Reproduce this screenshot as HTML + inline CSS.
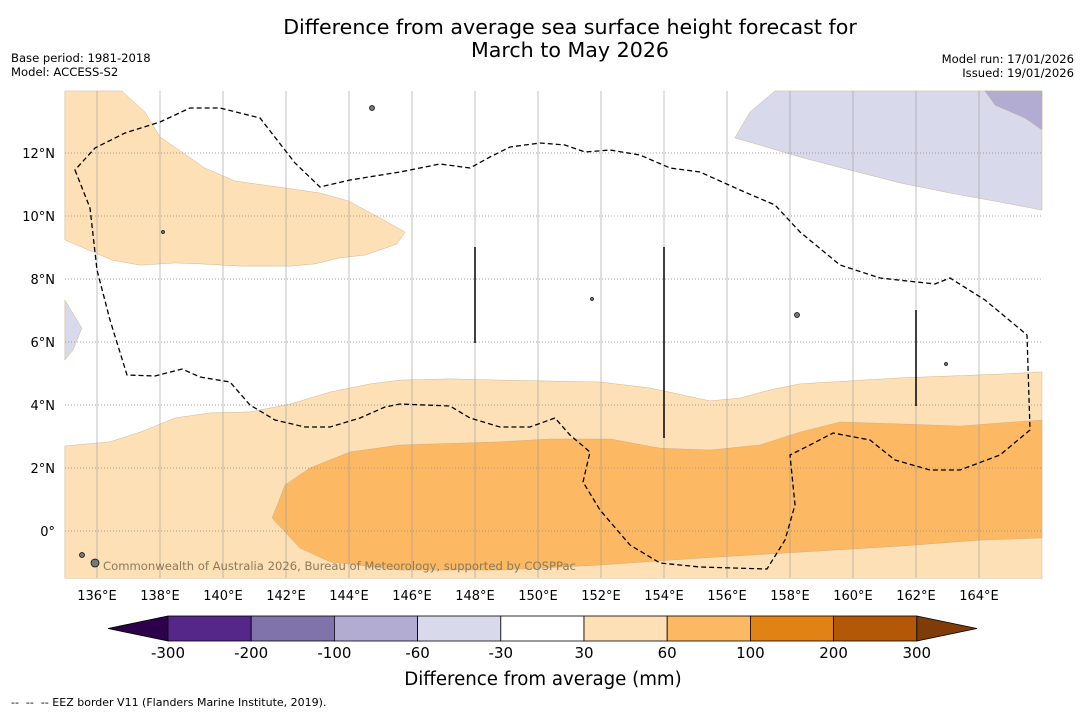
<!DOCTYPE html>
<html><head><meta charset="utf-8"><style>
body{margin:0;background:#fff;font-family:"Liberation Sans","DejaVu Sans",sans-serif;}
svg text{font-family:"DejaVu Sans","Liberation Sans",sans-serif;}
</style></head><body>
<svg id="c" width="1085" height="713" xmlns="http://www.w3.org/2000/svg">
<text x="570" y="34" font-size="20.6" text-anchor="middle">Difference from average sea surface height forecast for</text>
<text x="570" y="57" font-size="20.6" text-anchor="middle">March to May 2026</text>
<text x="11" y="62" font-size="11.6">Base period: 1981-2018</text>
<text x="11" y="76" font-size="11.6">Model: ACCESS-S2</text>
<text x="1074" y="63" font-size="11.6" text-anchor="end">Model run: 17/01/2026</text>
<text x="1074" y="77" font-size="11.6" text-anchor="end">Issued: 19/01/2026</text>
<g id="map"></g>
<g id="cb"></g>
<text x="543" y="685" font-size="18.2" text-anchor="middle">Difference from average (mm)</text>
<text x="11" y="706" font-size="11" xml:space="preserve">--  --  -- EEZ border V11 (Flanders Marine Institute, 2019).</text>
</svg>
<script>
const NS="http://www.w3.org/2000/svg";
const lonTicks=[136,138,140,142,144,146,148,150,152,154,156,158,160,162,164];
const latTicks=[0,2,4,6,8,10,12];
const levels=[-300,-200,-100,-60,-30,30,60,100,200,300];
const levelColors=["#2d004b","#542788","#8073ac","#b2abd2","#d8daeb","#ffffff","#fee0b6","#fdb863","#e08214","#b35806","#7f3b08"];
const regionTopLeft=[[134.98,13.97],[136.79,13.97],[137.52,13.3],[138.0,12.51],[139.43,11.52],[140.38,11.11],[141.97,10.89],[143.08,10.73],[143.97,10.48],[144.98,9.94],[145.78,9.49],[145.52,9.11],[144.51,8.76],[143.71,8.67],[142.92,8.48],[142.13,8.41],[140.54,8.41],[139.27,8.48],[138.48,8.51],[137.37,8.44],[136.48,8.6],[134.98,9.24]];
const regionPurple=[[156.25,12.48],[156.73,13.3],[157.52,13.97],[166,13.97],[166,10.19],[164.67,10.44],[163.08,10.73],[161.49,11.05],[159.9,11.46],[158.32,11.87],[157.05,12.25]];
const regionPurpleDark=[[164.19,13.97],[164.51,13.52],[165.46,13.11],[166,12.73],[166,13.97]];
const regionPurpleLeft=[[134.98,7.33],[135.52,6.44],[135.24,5.75],[134.98,5.43]];
const regionLightBand=[[134.98,2.7],[136.41,2.83],[137.37,3.14],[138.48,3.59],[139.59,3.75],[140.86,3.78],[142.13,4.03],[143.4,4.41],[144.67,4.67],[145.62,4.79],[147.21,4.83],[148.79,4.79],[150.38,4.76],[151.97,4.73],[153.56,4.54],[155.46,4.13],[156.41,4.22],[157.37,4.48],[158.32,4.67],[161.49,4.86],[164.67,4.98],[166,5.05],[166,-1.5],[134.98,-1.5]];
const regionMedBand=[[141.97,1.46],[142.76,2.0],[144.03,2.51],[145.62,2.73],[148.79,2.83],[150.38,2.92],[152.29,2.92],[153.87,2.63],[155.46,2.57],[157.05,2.73],[158.32,3.14],[159.59,3.46],[161.49,3.4],[163.4,3.33],[164.67,3.43],[166,3.52],[166,-0.22],[164.03,-0.29],[161.49,-0.48],[158.32,-0.67],[155.14,-0.86],[151.97,-1.08],[148.79,-1.24],[145.62,-1.24],[143.4,-0.98],[142.44,-0.54],[141.56,0.41]];
const regions=[[regionTopLeft,6,"region-30-60-north"],[regionPurple,4,"region-neg30-neg60-ne"],[regionPurpleDark,3,"region-neg60-neg100-ne"],[regionPurpleLeft,4,"region-neg30-neg60-west"],[regionLightBand,6,"region-30-60-south"],[regionMedBand,7,"region-60-100-equator"]];
const x0=65,x1=1042,y0=91,y1=578;
const X=lon=>97+(lon-136)*31.5, Y=lat=>531-lat*31.5;
const map=document.getElementById('map');
function mk(t,a,p){const e=document.createElementNS(NS,t);for(const k in a)e.setAttribute(k,a[k]);(p||map).appendChild(e);return e;}
regions.forEach(r=>{const e=mk('polygon',{points:r[0].map(p=>X(p[0])+','+Y(p[1])).join(' '),fill:levelColors[r[1]],stroke:'#c9a77c','stroke-width':0.4});

});
lonTicks.forEach(l=>{const g=mk('line',{x1:X(l),x2:X(l),y1:y0,y2:y1,stroke:'#999','stroke-width':0.6});


const t=mk('text',{x:X(l),y:600,'font-size':13,'text-anchor':'middle'});t.textContent=l+'°E';

});
latTicks.forEach(l=>{const g=mk('line',{x1:x0,x2:x1,y1:Y(l),y2:Y(l),stroke:'#888','stroke-width':0.8,'stroke-dasharray':'1,2'});


const t=mk('text',{x:55,y:Y(l)+5,'font-size':13,'text-anchor':'end'});t.textContent=l===0?'0°':l+'°N';

});
const eez="M75,170 L90,208 L97,270 L110,320 L127,375 L155,376 L182,369 L200,377 L230,382 L250,405 L275,420 L305,427 L330,427 L360,418 L385,407 L400,404 L450,406 L470,418 L500,427 L530,427 L555,418 L570,435 L590,452 L583,482 L600,510 L630,545 L660,563 L700,567 L767,569 L785,540 L795,505 L790,455 L810,445 L833,433 L870,440 L895,460 L930,470 L960,470 L1000,455 L1030,430 L1027,335 L985,300 L950,278 L935,284 L880,278 L840,265 L800,232 L775,205 L740,190 L700,172 L670,168 L640,155 L610,150 L585,152 L565,145 L540,143 L510,147 L490,157 L470,168 L440,164 L400,172 L350,180 L320,187 L295,163 L260,118 L220,108 L190,108 L160,122 L125,133 L95,148 Z";
const ez=mk('path',{d:eez,fill:'none',stroke:'#000','stroke-width':1.3,'stroke-dasharray':'5,3'});


[[475,247,343],[664,247,438],[916,310,406]].forEach(v=>{const l=mk('line',{x1:v[0],x2:v[0],y1:v[1],y2:v[2],stroke:'#000','stroke-width':1.5});

});
[[372,108,2.5],[797,315,2.5],[592,299,1.5],[163,232,1.5],[946,364,1.5],[95,563,4],[82,555,2.5]].forEach(i=>{const c=mk('circle',{cx:i[0],cy:i[1],r:i[2],fill:'#777',stroke:'#000','stroke-width':0.7});

});
const cr=mk('text',{x:103,y:570,'font-size':11.6,fill:'#8a7a5a'});cr.textContent='Commonwealth of Australia 2026, Bureau of Meteorology, supported by COSPPac';


// colorbar
const cb=document.getElementById('cb');
const bx0=168,bw=83.2,by=616,bh=25;
const tl=mk('polygon',{points:`108,${by+bh/2} ${bx0},${by} ${bx0},${by+bh}`,fill:levelColors[0],stroke:'#000','stroke-width':0.8},cb);


for(let i=0;i<levels.length-1;i++){const r=mk('rect',{x:bx0+i*bw,y:by,width:bw,height:bh,fill:levelColors[i+1],stroke:'#000','stroke-width':0.8},cb);

}
const xe=bx0+(levels.length-1)*bw;
const tr=mk('polygon',{points:`${xe},${by} 977,${by+bh/2} ${xe},${by+bh}`,fill:levelColors[10],stroke:'#000','stroke-width':0.8},cb);


levels.forEach((v,i)=>{const t=mk('text',{x:bx0+i*bw,y:658,'font-size':15,'text-anchor':'middle'},cb);t.textContent=v;

});
</script>
</body></html>
